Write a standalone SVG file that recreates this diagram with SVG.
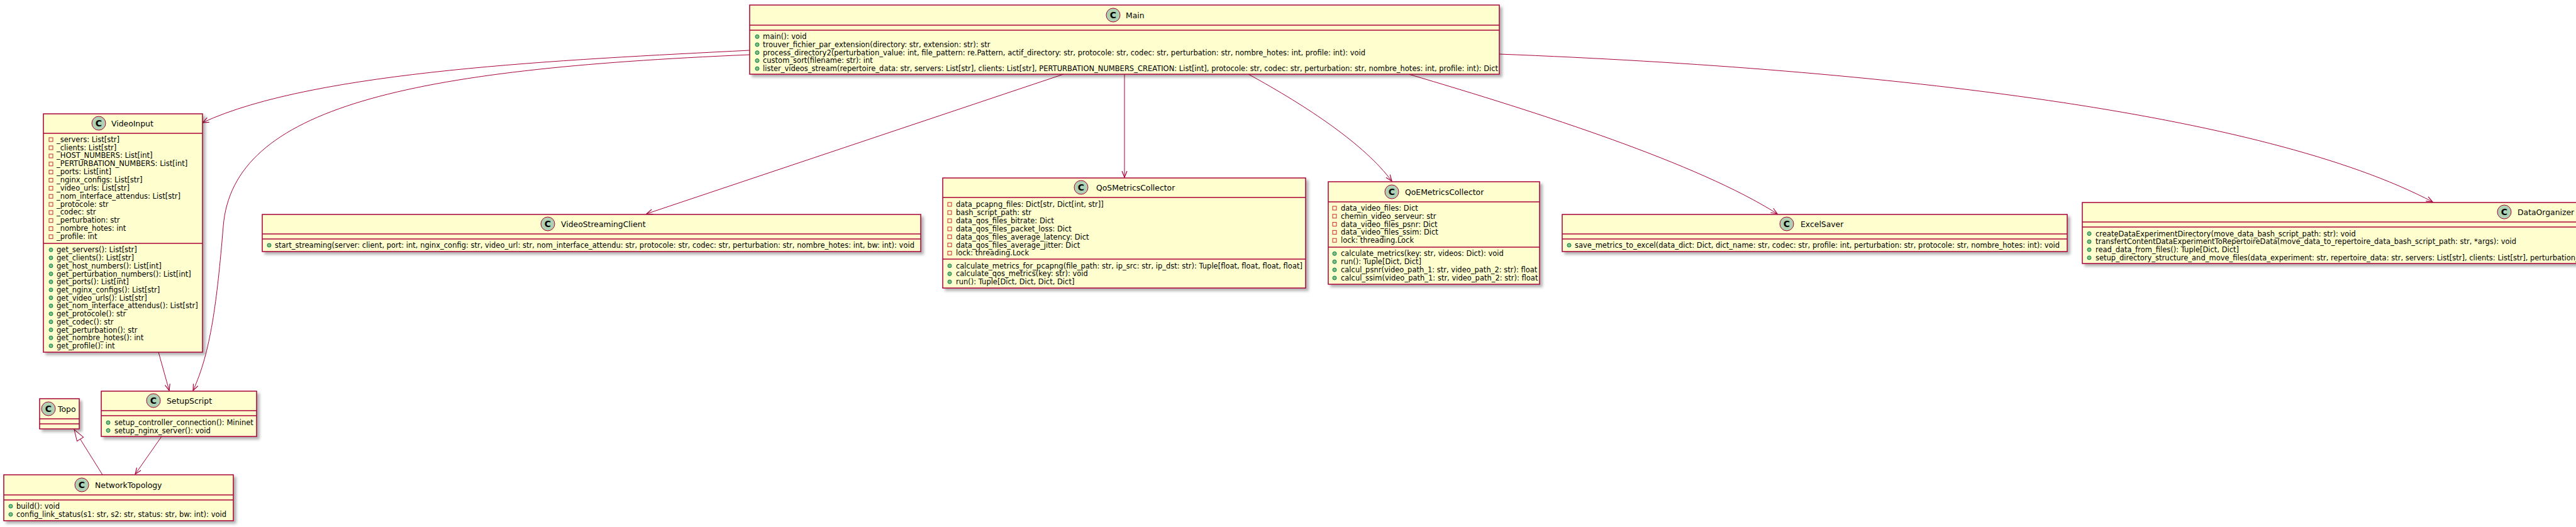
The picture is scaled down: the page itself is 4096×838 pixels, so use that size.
<svg xmlns="http://www.w3.org/2000/svg" width="4096" height="838" viewBox="0 0 4096 838">
<style>
.box{fill:#FEFECE;stroke:#A80036;stroke-width:1.5;filter:url(#sh)}
.ln{stroke:#A80036;stroke-width:1.5}
.ci{fill:#ADD1B2;stroke:#A80036;stroke-width:1}
.cl{font-family:"DejaVu Sans",sans-serif;font-weight:bold;font-size:14px;text-anchor:middle;fill:#000}
.nm{font-family:"DejaVu Sans",sans-serif;font-size:12.4px;fill:#000}
.mb{font-family:"DejaVu Sans",sans-serif;font-size:11.5px;fill:#000}
.pv{fill:none;stroke:#C82930;stroke-width:1}
.pb{fill:#84BE84;stroke:#038048;stroke-width:1}
.ed{fill:none;stroke:#A80036;stroke-width:1}
</style>
<defs>
<filter id="sh" x="-5%" y="-5%" width="115%" height="130%">
<feDropShadow dx="4" dy="4" stdDeviation="2" flood-color="#000" flood-opacity="0.3"/>
</filter>
<marker id="ar" viewBox="0 0 12 10" refX="11" refY="5" markerWidth="12" markerHeight="10" markerUnits="userSpaceOnUse" orient="auto">
<path d="M1,1 L11,5 L1,9" fill="none" stroke="#A80036" stroke-width="1.2"/>
</marker>
<marker id="tri" viewBox="0 0 20 14" refX="19" refY="7" markerWidth="20" markerHeight="14" markerUnits="userSpaceOnUse" orient="auto">
<path d="M1,1 L19,7 L1,13 Z" fill="#FFFFFF" stroke="#A80036" stroke-width="1"/>
</marker>
</defs>
<rect width="4096" height="838" fill="#FFFFFF"/>

<g id="connectors">
<path class="ed" d="M1192,80 C900,95 500,112 322,195" marker-end="url(#ar)"/>
<path class="ed" d="M1192,87 C650,110 370,170 355,360 C345,480 335,560 307,621" marker-end="url(#ar)"/>
<path class="ed" d="M1691,118 L1028,340" marker-end="url(#ar)"/>
<path class="ed" d="M1788,118 L1788,282" marker-end="url(#ar)"/>
<path class="ed" d="M1985,118 C2080,170 2170,230 2213,288" marker-end="url(#ar)"/>
<path class="ed" d="M2240,118 C2450,180 2700,260 2826,340" marker-end="url(#ar)"/>
<path class="ed" d="M2384,86 C3000,110 3600,180 3868,321" marker-end="url(#ar)"/>
<path class="ed" d="M252,560 L269,621" marker-end="url(#ar)"/>
<path class="ed" d="M257,694 L215,754" marker-end="url(#ar)"/>
<path class="ed" d="M163,755 L118,683" marker-end="url(#tri)"/>
</g>

<g id="Main">
<rect class="box" x="1192" y="8" width="1192" height="110"/>
<line class="ln" x1="1192" y1="40" x2="2384" y2="40"/>
<line class="ln" x1="1192" y1="48" x2="2384" y2="48"/>
<circle class="ci" cx="1770" cy="24" r="11"/>
<text class="cl" x="1770" y="29">C</text>
<text class="nm" x="1790" y="28.5">Main</text>
<circle class="pb" cx="1204" cy="58.3" r="3"/><text class="mb" x="1213" y="62.3">main(): void</text>
<circle class="pb" cx="1204" cy="71" r="3"/><text class="mb" x="1213" y="75">trouver_fichier_par_extension(directory: str, extension: str): str</text>
<circle class="pb" cx="1204" cy="83.7" r="3"/><text class="mb" x="1213" y="87.7">process_directory2(perturbation_value: int, file_pattern: re.Pattern, actif_directory: str, protocole: str, codec: str, perturbation: str, nombre_hotes: int, profile: int): void</text>
<circle class="pb" cx="1204" cy="96.4" r="3"/><text class="mb" x="1213" y="100.4">custom_sort(filename: str): int</text>
<circle class="pb" cx="1204" cy="109.1" r="3"/><text class="mb" x="1213" y="113.1">lister_videos_stream(repertoire_data: str, servers: List[str], clients: List[str], PERTURBATION_NUMBERS_CREATION: List[int], protocole: str, codec: str, perturbation: str, nombre_hotes: int, profile: int): Dict</text>
</g>

<g id="VideoInput">
<rect class="box" x="69" y="181" width="253" height="379"/>
<line class="ln" x1="69" y1="212" x2="322" y2="212"/>
<line class="ln" x1="69" y1="387" x2="322" y2="387"/>
<circle class="ci" cx="157" cy="196" r="11"/>
<text class="cl" x="157" y="201">C</text>
<text class="nm" x="177" y="200.5">VideoInput</text>
<rect class="pv" x="78" y="219" width="6" height="6"/><text class="mb" x="90" y="225.7">_servers: List[str]</text>
<rect class="pv" x="78" y="232" width="6" height="6"/><text class="mb" x="90" y="238.5">_clients: List[str]</text>
<rect class="pv" x="78" y="245" width="6" height="6"/><text class="mb" x="90" y="251.4">_HOST_NUMBERS: List[int]</text>
<rect class="pv" x="78" y="257.8" width="6" height="6"/><text class="mb" x="90" y="264.3">_PERTURBATION_NUMBERS: List[int]</text>
<rect class="pv" x="78" y="270.6" width="6" height="6"/><text class="mb" x="90" y="277.1">_ports: List[int]</text>
<rect class="pv" x="78" y="283.5" width="6" height="6"/><text class="mb" x="90" y="290">_nginx_configs: List[str]</text>
<rect class="pv" x="78" y="296.3" width="6" height="6"/><text class="mb" x="90" y="302.8">_video_urls: List[str]</text>
<rect class="pv" x="78" y="309.2" width="6" height="6"/><text class="mb" x="90" y="315.7">_nom_interface_attendus: List[str]</text>
<rect class="pv" x="78" y="322" width="6" height="6"/><text class="mb" x="90" y="328.5">_protocole: str</text>
<rect class="pv" x="78" y="334.9" width="6" height="6"/><text class="mb" x="90" y="341.4">_codec: str</text>
<rect class="pv" x="78" y="347.7" width="6" height="6"/><text class="mb" x="90" y="354.2">_perturbation: str</text>
<rect class="pv" x="78" y="360.6" width="6" height="6"/><text class="mb" x="90" y="367.1">_nombre_hotes: int</text>
<rect class="pv" x="78" y="373.4" width="6" height="6"/><text class="mb" x="90" y="379.9">_profile: int</text>
<circle class="pb" cx="81" cy="397.3" r="3"/><text class="mb" x="90" y="401.3">get_servers(): List[str]</text>
<circle class="pb" cx="81" cy="410" r="3"/><text class="mb" x="90" y="414">get_clients(): List[str]</text>
<circle class="pb" cx="81" cy="422.7" r="3"/><text class="mb" x="90" y="426.7">get_host_numbers(): List[int]</text>
<circle class="pb" cx="81" cy="435.5" r="3"/><text class="mb" x="90" y="439.5">get_perturbation_numbers(): List[int]</text>
<circle class="pb" cx="81" cy="448.2" r="3"/><text class="mb" x="90" y="452.2">get_ports(): List[int]</text>
<circle class="pb" cx="81" cy="460.9" r="3"/><text class="mb" x="90" y="464.9">get_nginx_configs(): List[str]</text>
<circle class="pb" cx="81" cy="473.6" r="3"/><text class="mb" x="90" y="477.6">get_video_urls(): List[str]</text>
<circle class="pb" cx="81" cy="486.3" r="3"/><text class="mb" x="90" y="490.3">get_nom_interface_attendus(): List[str]</text>
<circle class="pb" cx="81" cy="499" r="3"/><text class="mb" x="90" y="503">get_protocole(): str</text>
<circle class="pb" cx="81" cy="511.8" r="3"/><text class="mb" x="90" y="515.8">get_codec(): str</text>
<circle class="pb" cx="81" cy="524.5" r="3"/><text class="mb" x="90" y="528.5">get_perturbation(): str</text>
<circle class="pb" cx="81" cy="537.2" r="3"/><text class="mb" x="90" y="541.2">get_nombre_hotes(): int</text>
<circle class="pb" cx="81" cy="549.9" r="3"/><text class="mb" x="90" y="553.9">get_profile(): int</text>
</g>

<g id="VideoStreamingClient">
<rect class="box" x="417" y="341" width="1047" height="59"/>
<line class="ln" x1="417" y1="372" x2="1464" y2="372"/>
<line class="ln" x1="417" y1="380" x2="1464" y2="380"/>
<circle class="ci" cx="871" cy="356" r="11"/>
<text class="cl" x="871" y="361">C</text>
<text class="nm" x="892" y="361">VideoStreamingClient</text>
<circle class="pb" cx="428" cy="390" r="3"/><text class="mb" x="437" y="394">start_streaming(server: client, port: int, nginx_config: str, video_url: str, nom_interface_attendu: str, protocole: str, codec: str, perturbation: str, nombre_hotes: int, bw: int): void</text>
</g>

<g id="QoSMetricsCollector">
<rect class="box" x="1499" y="283" width="577" height="175"/>
<line class="ln" x1="1499" y1="314" x2="2076" y2="314"/>
<line class="ln" x1="1499" y1="412" x2="2076" y2="412"/>
<circle class="ci" cx="1719" cy="298" r="11"/>
<text class="cl" x="1719" y="303">C</text>
<text class="nm" x="1743" y="303">QoSMetricsCollector</text>
<rect class="pv" x="1507" y="322" width="6" height="6"/><text class="mb" x="1520" y="329">data_pcapng_files: Dict[str, Dict[int, str]]</text>
<rect class="pv" x="1507" y="335" width="6" height="6"/><text class="mb" x="1520" y="341.9">bash_script_path: str</text>
<rect class="pv" x="1507" y="348" width="6" height="6"/><text class="mb" x="1520" y="354.8">data_qos_files_bitrate: Dict</text>
<rect class="pv" x="1507" y="361" width="6" height="6"/><text class="mb" x="1520" y="367.7">data_qos_files_packet_loss: Dict</text>
<rect class="pv" x="1507" y="373.6" width="6" height="6"/><text class="mb" x="1520" y="380.6">data_qos_files_average_latency: Dict</text>
<rect class="pv" x="1507" y="386.5" width="6" height="6"/><text class="mb" x="1520" y="393.5">data_qos_files_average_jitter: Dict</text>
<rect class="pv" x="1507" y="399.4" width="6" height="6"/><text class="mb" x="1520" y="406.4">lock: threading.Lock</text>
<circle class="pb" cx="1510" cy="422.7" r="3"/><text class="mb" x="1520" y="426.7">calculate_metrics_for_pcapng(file_path: str, ip_src: str, ip_dst: str): Tuple[float, float, float, float]</text>
<circle class="pb" cx="1510" cy="435.4" r="3"/><text class="mb" x="1520" y="439.4">calculate_qos_metrics(key: str): void</text>
<circle class="pb" cx="1510" cy="448.1" r="3"/><text class="mb" x="1520" y="452.1">run(): Tuple[Dict, Dict, Dict, Dict]</text>
</g>

<g id="QoEMetricsCollector">
<rect class="box" x="2112" y="289" width="336" height="163"/>
<line class="ln" x1="2112" y1="321" x2="2448" y2="321"/>
<line class="ln" x1="2112" y1="393" x2="2448" y2="393"/>
<circle class="ci" cx="2213" cy="305" r="11"/>
<text class="cl" x="2213" y="310">C</text>
<text class="nm" x="2234" y="310">QoEMetricsCollector</text>
<rect class="pv" x="2119" y="328" width="6" height="6"/><text class="mb" x="2132" y="335">data_video_files: Dict</text>
<rect class="pv" x="2119" y="340.8" width="6" height="6"/><text class="mb" x="2132" y="347.8">chemin_video_serveur: str</text>
<rect class="pv" x="2119" y="353.6" width="6" height="6"/><text class="mb" x="2132" y="360.6">data_video_files_psnr: Dict</text>
<rect class="pv" x="2119" y="366.4" width="6" height="6"/><text class="mb" x="2132" y="373.4">data_video_files_ssim: Dict</text>
<rect class="pv" x="2119" y="379.2" width="6" height="6"/><text class="mb" x="2132" y="386.2">lock: threading.Lock</text>
<circle class="pb" cx="2122" cy="403.3" r="3"/><text class="mb" x="2132" y="407.3">calculate_metrics(key: str, videos: Dict): void</text>
<circle class="pb" cx="2122" cy="416.2" r="3"/><text class="mb" x="2132" y="420.2">run(): Tuple[Dict, Dict]</text>
<circle class="pb" cx="2122" cy="429.1" r="3"/><text class="mb" x="2132" y="433.1">calcul_psnr(video_path_1: str, video_path_2: str): float</text>
<circle class="pb" cx="2122" cy="442" r="3"/><text class="mb" x="2132" y="446">calcul_ssim(video_path_1: str, video_path_2: str): float</text>
</g>

<g id="ExcelSaver">
<rect class="box" x="2484" y="341" width="803" height="59"/>
<line class="ln" x1="2484" y1="372" x2="3287" y2="372"/>
<line class="ln" x1="2484" y1="380" x2="3287" y2="380"/>
<circle class="ci" cx="2841" cy="356" r="11"/>
<text class="cl" x="2841" y="361">C</text>
<text class="nm" x="2863" y="361">ExcelSaver</text>
<circle class="pb" cx="2495" cy="390" r="3"/><text class="mb" x="2504" y="394">save_metrics_to_excel(data_dict: Dict, dict_name: str, codec: str, profile: int, perturbation: str, protocole: str, nombre_hotes: int): void</text>
</g>

<g id="DataOrganizer">
<rect class="box" x="3311" y="322" width="820" height="97"/>
<line class="ln" x1="3311" y1="353" x2="4131" y2="353"/>
<line class="ln" x1="3311" y1="361" x2="4131" y2="361"/>
<circle class="ci" cx="3982" cy="337" r="11"/>
<text class="cl" x="3982" y="342">C</text>
<text class="nm" x="4003" y="342">DataOrganizer</text>
<circle class="pb" cx="3322" cy="371.5" r="3"/><text class="mb" x="3332" y="375.5">createDataExperimentDirectory(move_data_bash_script_path: str): void</text>
<circle class="pb" cx="3322" cy="384.3" r="3"/><text class="mb" x="3332" y="388.3">transfertContentDataExperimentToRepertoireData(move_data_to_repertoire_data_bash_script_path: str, *args): void</text>
<circle class="pb" cx="3322" cy="397.1" r="3"/><text class="mb" x="3332" y="401.1">read_data_from_files(): Tuple[Dict, Dict]</text>
<circle class="pb" cx="3322" cy="409.9" r="3"/><text class="mb" x="3332" y="413.9">setup_directory_structure_and_move_files(data_experiment: str, repertoire_data: str, servers: List[str], clients: List[str], perturbation_</text>
</g>

<g id="Topo">
<rect class="box" x="63" y="634" width="63" height="48"/>
<line class="ln" x1="63" y1="666" x2="126" y2="666"/>
<line class="ln" x1="63" y1="674" x2="126" y2="674"/>
<circle class="ci" cx="77" cy="650" r="11"/>
<text class="cl" x="77" y="655">C</text>
<text class="nm" x="92" y="654.5">Topo</text>
</g>

<g id="SetupScript">
<rect class="box" x="161" y="622" width="247" height="72"/>
<line class="ln" x1="161" y1="653" x2="408" y2="653"/>
<line class="ln" x1="161" y1="661" x2="408" y2="661"/>
<circle class="ci" cx="244" cy="637" r="11"/>
<text class="cl" x="244" y="642">C</text>
<text class="nm" x="265" y="642">SetupScript</text>
<circle class="pb" cx="172" cy="672" r="3"/><text class="mb" x="182" y="676">setup_controller_connection(): Mininet</text>
<circle class="pb" cx="172" cy="684.5" r="3"/><text class="mb" x="182" y="688.5">setup_nginx_server(): void</text>
</g>

<g id="NetworkTopology">
<rect class="box" x="6" y="755" width="365" height="73"/>
<line class="ln" x1="6" y1="787" x2="371" y2="787"/>
<line class="ln" x1="6" y1="795" x2="371" y2="795"/>
<circle class="ci" cx="130" cy="771" r="11"/>
<text class="cl" x="130" y="776">C</text>
<text class="nm" x="151" y="776">NetworkTopology</text>
<circle class="pb" cx="17" cy="805" r="3"/><text class="mb" x="26" y="809">build(): void</text>
<circle class="pb" cx="17" cy="818" r="3"/><text class="mb" x="26" y="822">config_link_status(s1: str, s2: str, status: str, bw: int): void</text>
</g>
</svg>
